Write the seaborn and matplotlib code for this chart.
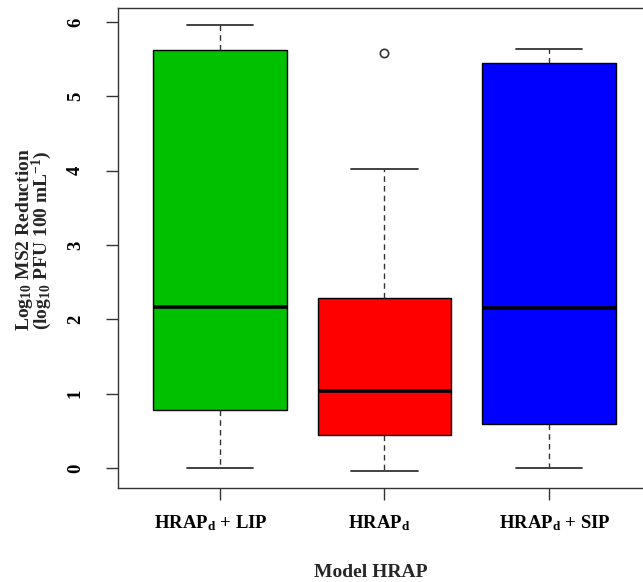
import numpy as np
import pandas as pd
import seaborn as sns
import matplotlib.pyplot as plt
from matplotlib.transforms import ScaledTranslation

# ---- data ----
groups = ["HRAPd + LIP", "HRAPd", "HRAPd + SIP"]
lip_values = [0.00, 0.78, 2.17, 5.62, 5.96]
hrap_values = [-0.04, 0.30, 0.45, 0.80, 1.04, 1.60, 2.29, 4.02, 5.58]
sip_values = [0.00, 0.59, 2.15, 5.45, 5.64]
box_colors = ["#00C000", "#FF0000", "#0000FF"]
tick_labels = [r"HRAP$_\mathbf{d}$ + LIP", r"HRAP$_\mathbf{d}$", r"HRAP$_\mathbf{d}$ + SIP"]
y_ticks = [0, 1, 2, 3, 4, 5, 6]

sns.set_theme(style="ticks")
plt.rcParams['font.family'] = ['Liberation Serif', 'DejaVu Serif']
plt.rcParams['font.weight'] = 'bold'
plt.rcParams['mathtext.fontset'] = 'custom'
plt.rcParams['mathtext.rm'] = 'Liberation Serif:bold'
plt.rcParams['mathtext.bf'] = 'Liberation Serif:bold'
plt.rcParams['mathtext.it'] = 'Liberation Serif:bold'

df = pd.DataFrame({
    "model": [groups[0]] * len(lip_values) + [groups[1]] * len(hrap_values) + [groups[2]] * len(sip_values),
    "value": lip_values + hrap_values + sip_values,
})

W, H = 643, 582
AX_L, AX_R, AX_T, AX_B = 118, 651, 8, 488
fig = plt.figure(figsize=(W / 100, H / 100), dpi=100)
ax = fig.add_axes([AX_L / W, 1 - AX_B / H, (AX_R - AX_L) / W, (AX_B - AX_T) / H])

edge = "#333333"
sns.boxplot(
    data=df, x="model", y="value", order=groups, hue="model", hue_order=groups,
    palette=box_colors, legend=False, width=0.81, whis=1.5, saturation=1,
    linecolor="black", linewidth=1.0, ax=ax,
    medianprops=dict(color="black", linewidth=2.6),
    whiskerprops=dict(linestyle=(0, (4, 3)), color=edge, linewidth=1.0),
    capprops=dict(color=edge, linewidth=1.3),
    flierprops=dict(marker="o", markerfacecolor="white", markeredgecolor=edge,
                    markersize=6, markeredgewidth=1.2),
)

ax.set_xlim(-0.62, 2.62)
ax.set_ylim(-0.269, 6.19)
ax.set_yticks(y_ticks)
ax.set_yticklabels([str(t) for t in y_ticks])
ax.set_xticks(range(len(groups)))
ax.set_xticklabels(tick_labels)

for s in ax.spines.values():
    s.set_visible(True)
    s.set_color(edge)
    s.set_linewidth(1.0)

ax.tick_params(axis="both", colors=edge, length=8.5, width=1.0, labelcolor="black", labelsize=13.5)
ax.tick_params(axis="y", pad=16)
ax.tick_params(axis="x", pad=10)
for lab in ax.get_yticklabels():
    lab.set_rotation(90)
    lab.set_va("center")
    lab.set_fontweight("bold")

# small horizontal offsets (pixels) of the category labels as seen in the reference
label_dx = [-9, -5, 6]
for tick, dx in zip(ax.xaxis.get_major_ticks(), label_dx):
    tick.label1.set_fontweight("bold")
    tick.label1.set_transform(tick.label1.get_transform() +
                              ScaledTranslation(dx / 100, 0, fig.dpi_scale_trans))

aw, ah = AX_R - AX_L, AX_B - AX_T
ax.set_xlabel("Model HRAP", fontsize=14, fontweight="bold")
ax.xaxis.set_label_coords((371 - AX_L) / aw, (AX_B - 564) / ah)
ax.set_ylabel("Log$_{10}$ MS2 Reduction\n(log$_{10}$ PFU 100 mL$^{-1}$)", fontsize=14,
              fontweight="bold", linespacing=0.72)
ax.yaxis.set_label_coords((54 - AX_L) / aw, (AX_B - 240) / ah)

fig.savefig("out.png", dpi=100)
